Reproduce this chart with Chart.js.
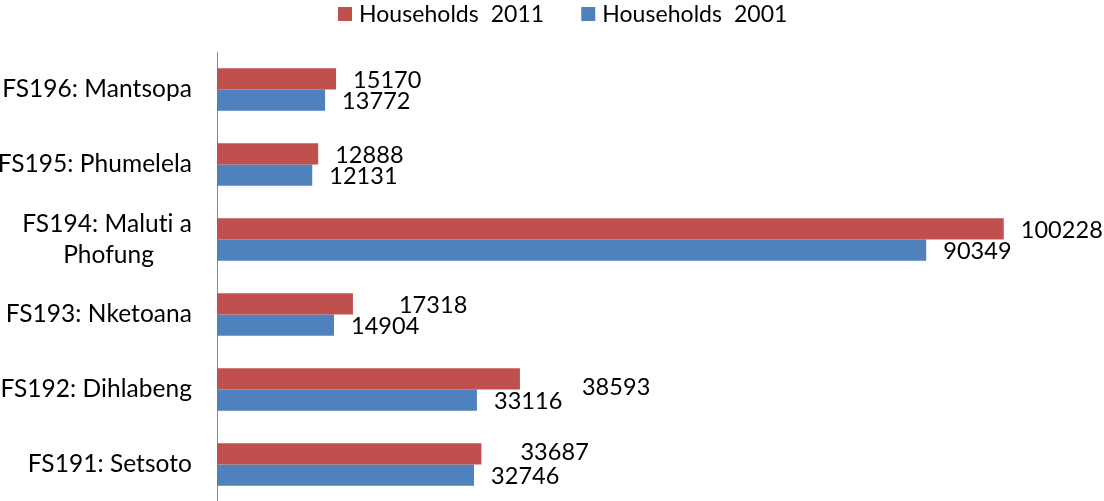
<!DOCTYPE html>
<html>
<head>
<meta charset="utf-8">
<script src="https://cdn.jsdelivr.net/npm/chart.js@4.4.1/dist/chart.umd.min.js"></script>
<style>
html,body{margin:0;padding:0;overflow:hidden;background:#fff}
canvas{display:block;font-variant-ligatures:none}
</style>
</head>
<body>
<canvas id="c" width="1104" height="503" style="width:1104px;height:503px"></canvas>
<script>
// ---- data ----
const categories = [
  'FS196: Mantsopa',
  'FS195: Phumelela',
  ['FS194: Maluti a', 'Phofung'],
  'FS193: Nketoana',
  'FS192: Dihlabeng',
  'FS191: Setsoto'
];
const households2011 = [15170, 12888, 100228, 17318, 38593, 33687];
const households2001 = [13772, 12131, 90349, 14904, 33116, 32746];
const seriesNames = ['Households  2011', 'Households  2001'];

// ---- style ----
const FONT = 'Lato, "Open Sans", sans-serif';
const TICK_SIZE = 24.5;
const LABEL_SIZE = 23.5;
const LEGEND_SIZE = 23;
const COLORS = ['#C0504D', '#4F81BD'];
// manual label nudges (px) mimicking the reference's label placement
const labelShiftX = [[0, 0, 0, 29, 45, 22], [0, 0, 0, 0, 0, 0]];
const labelShiftY = [[0, 0, 0, 0, 7, -3], [0, 0, 0, 0, 0, 0]];

const measureCtx = document.createElement('canvas').getContext('2d');
measureCtx.font = TICK_SIZE + 'px ' + FONT;

function centerLines(lines) {
  const widths = lines.map(l => measureCtx.measureText(l).width);
  const maxW = Math.max(...widths);
  const spaceW = measureCtx.measureText(' ').width;
  return lines.map((l, i) => l + ' '.repeat(Math.round((maxW - widths[i]) / 2 / spaceW)));
}

const noLigatures = {
  id: 'noLigatures',
  beforeDraw(chart) {
    // a tiny letter spacing stops the "ti" ligature of Lato
    if ('letterSpacing' in chart.ctx) chart.ctx.letterSpacing = '0.05px';
  }
};

const dataLabels = {
  id: 'dataLabels',
  afterDatasetsDraw(chart) {
    const ctx = chart.ctx;
    ctx.save();
    ctx.font = LABEL_SIZE + 'px ' + FONT;
    ctx.fillStyle = '#000';
    ctx.textAlign = 'left';
    ctx.textBaseline = 'middle';
    chart.data.datasets.forEach((ds, di) => {
      chart.getDatasetMeta(di).data.forEach((bar, i) => {
        ctx.fillText(String(ds.data[i]), bar.x + 17 + labelShiftX[di][i], bar.y + 1.5 + labelShiftY[di][i]);
      });
    });
    ctx.restore();
  }
};

const topLegend = {
  id: 'topLegend',
  afterDraw(chart) {
    const ctx = chart.ctx;
    ctx.save();
    ctx.font = LEGEND_SIZE + 'px ' + FONT;
    ctx.textBaseline = 'alphabetic';
    ctx.textAlign = 'left';
    let x = 338;
    chart.data.datasets.forEach((ds) => {
      ctx.fillStyle = ds.backgroundColor;
      ctx.fillRect(x, 7, 14, 14);
      ctx.fillStyle = '#000';
      ctx.fillText(ds.label, x + 21, 22);
      x += 21 + ctx.measureText(ds.label).width + 37;
    });
    ctx.restore();
  }
};

new Chart(document.getElementById('c'), {
  type: 'bar',
  data: {
    labels: categories,
    datasets: [
      { label: seriesNames[0], data: households2011, backgroundColor: COLORS[0], categoryPercentage: 0.565, barPercentage: 1 },
      { label: seriesNames[1], data: households2001, backgroundColor: COLORS[1], categoryPercentage: 0.565, barPercentage: 1 }
    ]
  },
  options: {
    indexAxis: 'y',
    responsive: false,
    maintainAspectRatio: false,
    devicePixelRatio: 1,
    animation: false,
    layout: { autoPadding: false, padding: { top: 52, left: 0, right: 0, bottom: 1 } },
    plugins: { legend: { display: false }, tooltip: { enabled: false } },
    scales: {
      x: { display: false, min: 0, max: 113000 },
      y: {
        grid: { display: false, drawTicks: false },
        border: { display: true, color: '#868686', width: 1 },
        ticks: {
          color: '#000',
          padding: 25,
          font: { family: FONT, size: TICK_SIZE, lineHeight: 1.25 },
          callback(value) {
            const l = this.getLabelForValue(value);
            return Array.isArray(l) ? centerLines(l) : l;
          }
        },
        afterFit(scale) {
          scale.width = 217;
          scale.paddingTop = 0;
          scale.paddingBottom = 0;
        }
      }
    }
  },
  plugins: [noLigatures, dataLabels, topLegend]
});
</script>
</body>
</html>
